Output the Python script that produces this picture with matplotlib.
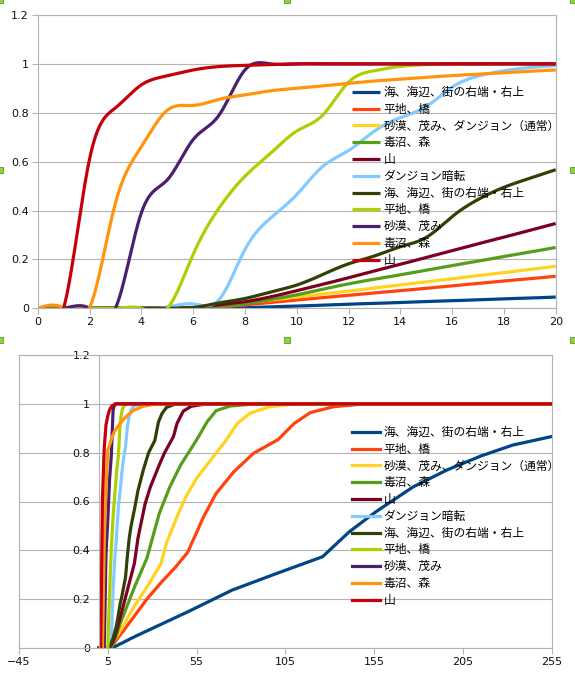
import numpy as np
import matplotlib.pyplot as plt
from matplotlib.patches import Rectangle
from matplotlib.ticker import FuncFormatter

plt.rcParams['font.family'] = ['DejaVu Sans']

# turns 0..20 (top chart, smoothed)
steps = np.arange(21)

labels = ['海、海辺、街の右端・右上', '平地、橋', '砂漠、茂み、ダンジョン（通常）', '毒沼、森', '山',
          'ダンジョン暗転', '海、海辺、街の右端・右上', '平地、橋', '砂漠、茂み', '毒沼、森', '山']
colors = ['#004586', '#ff420e', '#ffd320', '#579d1c', '#7e0021', '#83caff',
          '#314004', '#aecf00', '#4b1f6f', '#ff950e', '#c5000b']

sea = [0]*8 + [0.002, 0.006, 0.009, 0.013, 0.017, 0.02, 0.024, 0.028, 0.031, 0.035, 0.039, 0.042, 0.046]
plain = [0]*7 + [0.005, 0.014, 0.024, 0.034, 0.044, 0.053, 0.063, 0.072, 0.082, 0.092, 0.102, 0.112, 0.121, 0.131]
desert = [0]*7 + [0.01, 0.022, 0.034, 0.046, 0.058, 0.07, 0.083, 0.096, 0.108, 0.121, 0.134, 0.146, 0.159, 0.172]
swamp = [0]*7 + [0.006, 0.018, 0.036, 0.055, 0.078, 0.1, 0.119, 0.137, 0.156, 0.175, 0.193, 0.212, 0.23, 0.249]
mount = [0]*6 + [0.003, 0.014, 0.027, 0.047, 0.072, 0.098, 0.125, 0.153, 0.18, 0.208, 0.236, 0.264, 0.291, 0.319, 0.347]
dark = [0]*5 + [0.005, 0.018, 0.035, 0.24, 0.37, 0.465, 0.58, 0.645, 0.725, 0.78, 0.825, 0.905, 0.95, 0.972, 0.985, 0.993]
sea2 = [0]*6 + [0.003, 0.022, 0.04, 0.067, 0.095, 0.138, 0.182, 0.214, 0.252, 0.29, 0.375, 0.445, 0.495, 0.532, 0.567]
plain2 = [0]*6 + [0.22, 0.41, 0.54, 0.635, 0.725, 0.79, 0.925, 0.972, 0.99, 0.997, 1, 1, 1, 1, 1]
desert2 = [0]*4 + [0.39, 0.525, 0.69, 0.79, 0.975] + [1]*12
swamp2 = [0]*3 + [0.43, 0.66, 0.81, 0.83, 0.855, 0.873, 0.89, 0.9, 0.91, 0.92, 0.93, 0.937, 0.945, 0.952, 0.958, 0.964, 0.97, 0.975]
mount2 = [0]*2 + [0.61, 0.82, 0.914, 0.951, 0.975, 0.989, 0.994, 0.997] + [1]*11

# values after turn 20 (bottom chart, read at uneven turns)
sea_tx = [30, 50, 75, 100, 126, 141, 156, 177, 196, 215, 233, 255]
sea_ty = [0.08, 0.148, 0.237, 0.305, 0.374, 0.476, 0.558, 0.66, 0.729, 0.786, 0.831, 0.866]
plain_tx = [27, 35, 43, 50, 59, 66, 76, 87, 101, 110, 119, 132, 147, 170, 255]
plain_ty = [0.2, 0.268, 0.33, 0.392, 0.538, 0.633, 0.722, 0.797, 0.854, 0.92, 0.964, 0.988, 0.998, 1.0, 1.0]
desert_tx = [28, 35, 38, 44, 49, 55, 63, 71, 78, 85, 96, 110, 255]
desert_ty = [0.26, 0.347, 0.429, 0.538, 0.62, 0.695, 0.77, 0.845, 0.92, 0.961, 0.988, 0.999, 1.0]
swamp_tx = [27, 34, 40, 46, 55, 61, 66, 74, 87, 255]
swamp_ty = [0.367, 0.551, 0.661, 0.749, 0.852, 0.927, 0.972, 0.991, 0.999, 1.0]
mount_tx = [22, 26, 29, 34, 37, 42, 44, 47.5, 52, 60, 255]
mount_ty = [0.45, 0.59, 0.66, 0.75, 0.8, 0.866, 0.92, 0.97, 0.99, 0.999, 1.0]
dark_tx = [25, 255]
dark_ty = [1.0, 1.0]
sea2_tx = [22, 25, 28, 31.5, 33.5, 35.5, 38, 43, 255]
sea2_ty = [0.645, 0.729, 0.8, 0.85, 0.925, 0.96, 0.985, 0.999, 1.0]
plain2_tx = [255]
plain2_ty = [1.0]
desert2_tx = [255]
desert2_ty = [1.0]
swamp2_tx = [25, 30, 40, 255]
swamp2_ty = [0.99, 0.997, 1.0, 1.0]
mount2_tx = [255]
mount2_ty = [1.0]

heads = [sea, plain, desert, swamp, mount, dark, sea2, plain2, desert2, swamp2, mount2]
tails = [(sea_tx, sea_ty), (plain_tx, plain_ty), (desert_tx, desert_ty), (swamp_tx, swamp_ty),
         (mount_tx, mount_ty), (dark_tx, dark_ty), (sea2_tx, sea2_ty), (plain2_tx, plain2_ty),
         (desert2_tx, desert2_ty), (swamp2_tx, swamp2_ty), (mount2_tx, mount2_ty)]


def spline(x, y, n=600):
    # natural cubic spline, like the "smooth line" option of the spreadsheet
    x = np.asarray(x, float)
    y = np.asarray(y, float)
    k = len(x)
    h = np.diff(x)
    A = np.zeros((k, k))
    b = np.zeros(k)
    A[0, 0] = A[-1, -1] = 1
    for i in range(1, k - 1):
        A[i, i - 1] = h[i - 1]
        A[i, i] = 2 * (h[i - 1] + h[i])
        A[i, i + 1] = h[i]
        b[i] = 6 * ((y[i + 1] - y[i]) / h[i] - (y[i] - y[i - 1]) / h[i - 1])
    M = np.linalg.solve(A, b)
    xs = np.linspace(x[0], x[-1], n)
    j = np.clip(np.searchsorted(x, xs) - 1, 0, k - 2)
    hh = x[j + 1] - x[j]
    t0 = x[j + 1] - xs
    t1 = xs - x[j]
    ys = (M[j] * t0**3 + M[j + 1] * t1**3) / (6 * hh) \
        + (y[j] / hh - M[j] * hh / 6) * t0 + (y[j + 1] / hh - M[j + 1] * hh / 6) * t1
    return xs, ys


grid = '#b3b3b3'
W, H = 575, 681
fig = plt.figure(figsize=(W / 100, H / 100), dpi=100)


def axes_px(l, t, r, b):
    return fig.add_axes([l / W, 1 - b / H, (r - l) / W, (b - t) / H])


def style(ax):
    ax.set_ylim(0, 1.2)
    ax.set_yticks(np.arange(0, 1.21, 0.2))
    ax.yaxis.set_major_formatter(FuncFormatter(lambda v, p: f'{v:g}'))
    ax.grid(axis='y', color=grid, lw=0.8)
    ax.set_axisbelow(True)
    for s in ax.spines.values():
        s.set_color(grid)
        s.set_linewidth(0.8)
    ax.tick_params(direction='out', length=4.3, width=0.8, color=grid,
                   labelsize=8, pad=2, labelcolor='#111111')


leg_font = {'family': ['Noto Sans CJK JP', 'DejaVu Sans'], 'size': 8.5}
leg_opts = dict(loc='upper left', bbox_transform=fig.transFigure, frameon=False, prop=leg_font,
                handlelength=2.4, handletextpad=0.25, labelspacing=0.32, borderpad=0, borderaxespad=0)

# top chart
ax1 = axes_px(37.7, 15, 555.7, 308.3)
for yv, c, lab in zip(heads, colors, labels):
    xs, ys = spline(steps, yv)
    ax1.plot(xs, ys, color=c, lw=2.3, label=lab, solid_capstyle='butt')
ax1.set_xlim(0, 20)
ax1.set_xticks(np.arange(0, 21, 2))
style(ax1)
ax1.legend(bbox_to_anchor=(352 / W, 1 - 86 / H), **leg_opts)

# bottom chart
ax2 = axes_px(19, 355, 551.7, 648)
for yv, (tx, ty), c, lab in zip(heads, tails, colors, labels):
    ax2.plot(np.concatenate([steps, tx]), np.concatenate([yv, ty]), color=c, lw=2.3, label=lab)
ax2.set_xlim(-45, 255)
ax2.set_xticks(np.arange(-45, 256, 50))
style(ax2)
ax2.spines['left'].set_position(('data', 0))
ax2.axvline(-45, color=grid, lw=0.8, clip_on=False, zorder=0)
ax2.legend(bbox_to_anchor=(352 / W, 1 - 426 / H), **leg_opts)

# selection handles of the top chart object
for hx, hy in [(0, 0), (287, 0), (573, 0), (0, 170), (573, 170), (0, 340), (287, 340), (573, 340)]:
    fig.add_artist(Rectangle(((hx - 3) / W, 1 - (hy + 3) / H), 6 / W, 6 / H, transform=fig.transFigure,
                             facecolor='#8fd33f', edgecolor='#5e9a1e', lw=0.6, zorder=10))

fig.savefig('out.png', dpi=100)
